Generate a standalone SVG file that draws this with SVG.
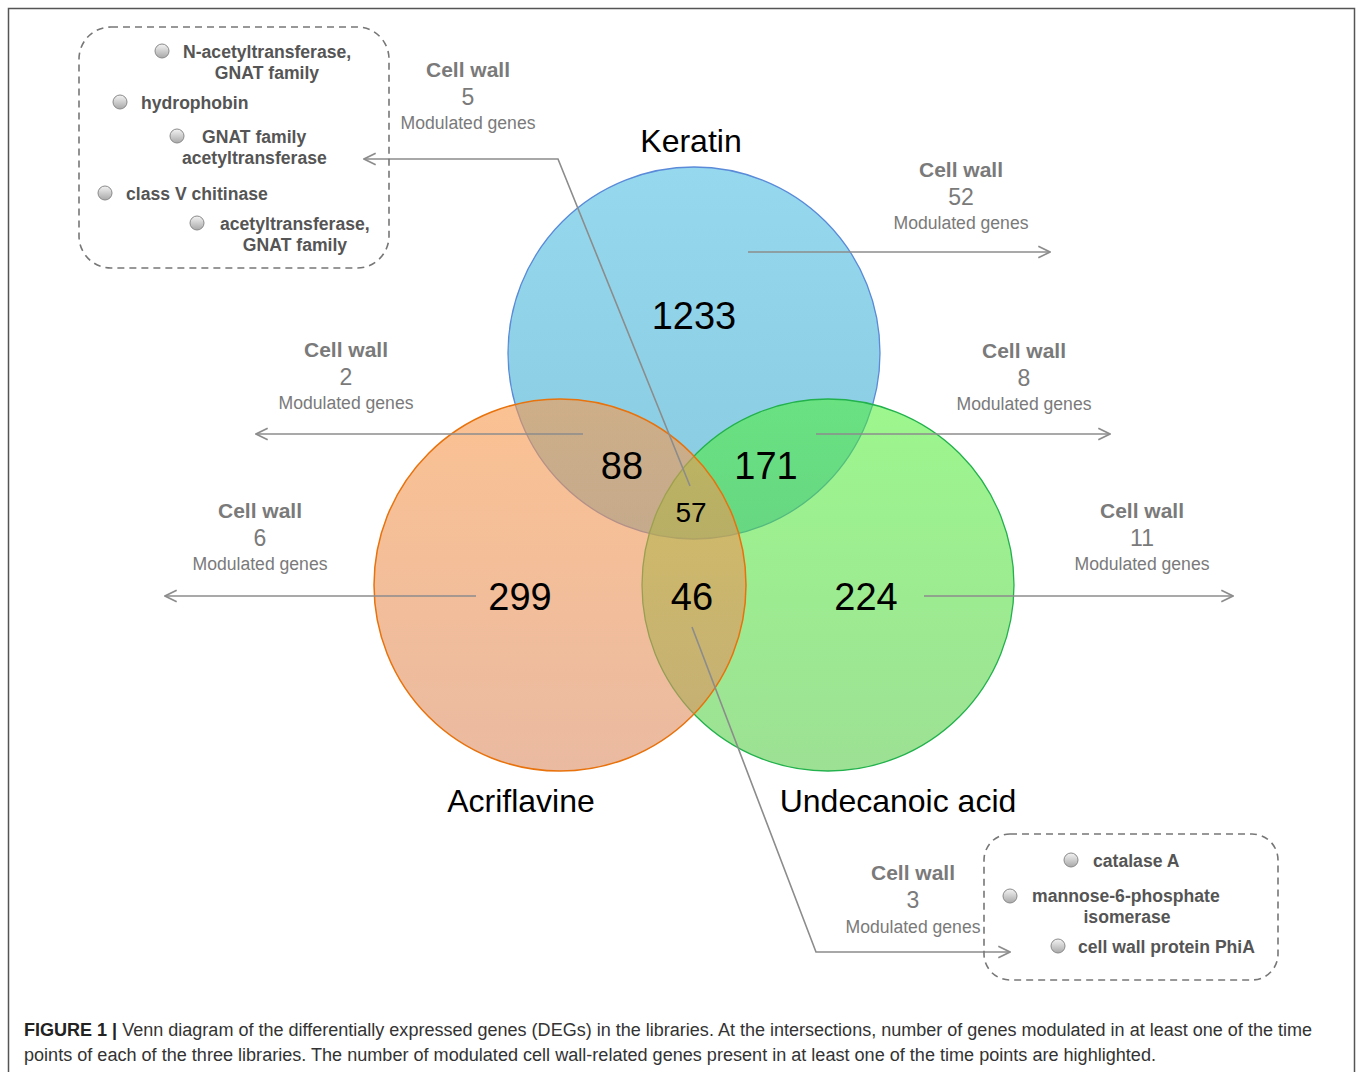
<svg xmlns="http://www.w3.org/2000/svg" width="1358" height="1072" viewBox="0 0 1358 1072">
<defs>
<style>
.lbl{font-family:"Liberation Sans",Arial,sans-serif;fill:#000;text-anchor:middle}
.num{font-size:38px}
.set{font-size:32px}
.cw{font-family:"Liberation Sans",Arial,sans-serif;fill:#7a7a7a;text-anchor:middle}
.cwt{font-size:21px;font-weight:bold}
.cwn{font-size:23px}
.cwm{font-size:17.6px}
.item{font-family:"Liberation Sans",Arial,sans-serif;font-size:17.6px;font-weight:bold;fill:#555}
.conn{fill:none;stroke:#8c8c8c;stroke-width:1.6}
.dash{fill:none;stroke:#777;stroke-width:1.6;stroke-dasharray:7 5}
.bul{fill:url(#bg);stroke:#8a8a8a;stroke-width:1}
.cap{font-family:"Liberation Sans",Arial,sans-serif;font-size:18px;fill:#333}
</style>
<linearGradient id="bg" x1="0" y1="0" x2="0" y2="1">
<stop offset="0" stop-color="#f4f4f4"/><stop offset="1" stop-color="#a8a8a8"/>
</linearGradient>
<linearGradient id="gb" x1="0" y1="0" x2="0" y2="1">
<stop offset="0" stop-color="#96d9ef"/><stop offset="1" stop-color="#88cbe0"/>
</linearGradient>
<linearGradient id="gg" x1="0" y1="0" x2="0" y2="1">
<stop offset="0" stop-color="#4cf030"/><stop offset="1" stop-color="#4cc83c"/>
</linearGradient>
<linearGradient id="go" x1="0" y1="0" x2="0" y2="1">
<stop offset="0" stop-color="#f8984a"/><stop offset="1" stop-color="#dc8c62"/>
</linearGradient>
<marker id="ah" viewBox="0 0 12 12" refX="11" refY="6" markerWidth="14" markerHeight="14" markerUnits="userSpaceOnUse" orient="auto">
<path d="M1,1 L11,6 L1,11" fill="none" stroke="#8c8c8c" stroke-width="1.4"/>
</marker>
</defs>
<rect x="0" y="0" width="1358" height="1072" fill="#fff"/>
<rect x="8.5" y="8.5" width="1346" height="1090" fill="none" stroke="#555" stroke-width="1.5"/>

<g id="keratin">
<circle cx="694" cy="353" r="186" fill="url(#gb)" stroke="#5a8ad8" stroke-width="1.3"/>
</g>
<g id="undecanoic">
<circle cx="828" cy="585" r="186" fill="url(#gg)" fill-opacity="0.55" stroke="#22b14c" stroke-width="1.3"/>
</g>
<g id="acriflavine">
<circle cx="560" cy="585" r="186" fill="url(#go)" fill-opacity="0.6" stroke="#e8720c" stroke-width="1.5"/>
</g>

<g id="set-labels">
<text class="lbl set" x="691" y="152">Keratin</text>
<text class="lbl set" x="521" y="812">Acriflavine</text>
<text class="lbl set" x="898" y="812">Undecanoic acid</text>
</g>

<g id="counts">
<text class="lbl num" x="694" y="329">1233</text>
<text class="lbl num" x="622" y="479">88</text>
<text class="lbl num" x="766" y="479">171</text>
<text class="lbl" x="691" y="522" style="font-size:28px">57</text>
<text class="lbl num" x="520" y="610">299</text>
<text class="lbl num" x="692" y="610">46</text>
<text class="lbl num" x="866" y="610">224</text>
</g>

<g id="connectors">
<path class="conn" d="M748,252 H1050" marker-end="url(#ah)"/>
<path class="conn" d="M583,434 H256" marker-end="url(#ah)"/>
<path class="conn" d="M816,434 H1110" marker-end="url(#ah)"/>
<path class="conn" d="M476,596 H165" marker-end="url(#ah)"/>
<path class="conn" d="M924,596 H1233" marker-end="url(#ah)"/>
<path class="conn" d="M690,486 L558,159 H364" marker-end="url(#ah)"/>
<path class="conn" d="M692,627 L816,952 H1010" marker-end="url(#ah)"/>
</g>

<g id="cw-top">
<text class="cw cwt" x="468" y="77">Cell wall</text>
<text class="cw cwn" x="468" y="105">5</text>
<text class="cw cwm" x="468" y="129">Modulated genes</text>
</g>
<g id="cw-keratin">
<text class="cw cwt" x="961" y="177">Cell wall</text>
<text class="cw cwn" x="961" y="205">52</text>
<text class="cw cwm" x="961" y="229">Modulated genes</text>
</g>
<g id="cw-88">
<text class="cw cwt" x="346" y="357">Cell wall</text>
<text class="cw cwn" x="346" y="385">2</text>
<text class="cw cwm" x="346" y="409">Modulated genes</text>
</g>
<g id="cw-171">
<text class="cw cwt" x="1024" y="358">Cell wall</text>
<text class="cw cwn" x="1024" y="386">8</text>
<text class="cw cwm" x="1024" y="410">Modulated genes</text>
</g>
<g id="cw-299">
<text class="cw cwt" x="260" y="518">Cell wall</text>
<text class="cw cwn" x="260" y="546">6</text>
<text class="cw cwm" x="260" y="570">Modulated genes</text>
</g>
<g id="cw-224">
<text class="cw cwt" x="1142" y="518">Cell wall</text>
<text class="cw cwn" x="1142" y="546">11</text>
<text class="cw cwm" x="1142" y="570">Modulated genes</text>
</g>
<g id="cw-46">
<text class="cw cwt" x="913" y="880">Cell wall</text>
<text class="cw cwn" x="913" y="908">3</text>
<text class="cw cwm" x="913" y="933">Modulated genes</text>
</g>

<g id="box-57">
<rect class="dash" x="79" y="27" width="310" height="241" rx="32"/>
<circle class="bul" cx="162" cy="51" r="7"/>
<text class="item" x="183" y="58">N-acetyltransferase,</text>
<text class="item" x="267" y="79" text-anchor="middle">GNAT family</text>
<circle class="bul" cx="120" cy="102" r="7"/>
<text class="item" x="141" y="109">hydrophobin</text>
<circle class="bul" cx="177" cy="136" r="7"/>
<text class="item" x="202" y="143">GNAT family</text>
<text class="item" x="182" y="164">acetyltransferase</text>
<circle class="bul" cx="105" cy="193" r="7"/>
<text class="item" x="126" y="200">class V chitinase</text>
<circle class="bul" cx="197" cy="223" r="7"/>
<text class="item" x="220" y="230">acetyltransferase,</text>
<text class="item" x="295" y="251" text-anchor="middle">GNAT family</text>
</g>

<g id="box-46">
<rect class="dash" x="984" y="834" width="294" height="146" rx="26"/>
<circle class="bul" cx="1071" cy="860" r="7"/>
<text class="item" x="1093" y="867">catalase A</text>
<circle class="bul" cx="1010" cy="896" r="7"/>
<text class="item" x="1032" y="902">mannose-6-phosphate</text>
<text class="item" x="1127" y="923" text-anchor="middle">isomerase</text>
<circle class="bul" cx="1058" cy="946" r="7"/>
<text class="item" x="1078" y="953">cell wall protein PhiA</text>
</g>

<g id="caption">
<text class="cap" x="24" y="1036" textLength="1288" lengthAdjust="spacingAndGlyphs"><tspan font-weight="bold" fill="#222">FIGURE 1 |</tspan> Venn diagram of the differentially expressed genes (DEGs) in the libraries. At the intersections, number of genes modulated in at least one of the time</text>
<text class="cap" x="24" y="1061" textLength="1132" lengthAdjust="spacingAndGlyphs">points of each of the three libraries. The number of modulated cell wall-related genes present in at least one of the time points are highlighted.</text>
</g>
</svg>
